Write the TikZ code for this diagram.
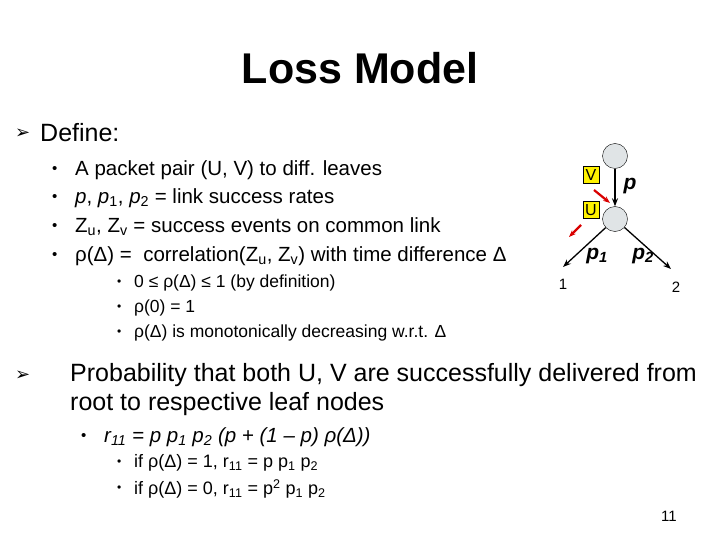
\documentclass[tikz,border=0pt]{standalone}
\usepackage{fontspec}
\setmainfont{Liberation Sans}
\newfontfamily\dvs{DejaVu Sans}
\usetikzlibrary{arrows.meta}
\begin{document}
\begin{tikzpicture}[x=1pt,y=-1pt,
  t/.style={anchor=west,inner sep=0pt},
  big/.style={t,font=\fontsize{25}{28}\selectfont},
  mid/.style={t,font=\fontsize{20.5}{24}\selectfont},
  sml/.style={t,font=\fontsize{17.5}{20}\selectfont},
  ism/.style={t,font=\fontsize{18}{20}\selectfont},
  bul/.style={t,font=\fontsize{15}{18}\selectfont},
  sbul/.style={t,font=\fontsize{12}{14}\selectfont},
  arr/.style={t,font=\dvs\fontsize{18}{20}\selectfont},
  circ/.style={circle,draw=black,fill=cyan!10!gray!25,minimum size=25pt,inner sep=0pt},
  lab/.style={draw=black,fill=yellow,inner sep=1pt,minimum width=16pt,minimum height=17pt,font=\fontsize{16}{18}\selectfont},
  edge/.style={-{Stealth[length=8pt]},line width=1.3pt},
  redarrow/.style={-{Stealth[length=7pt]},line width=2.2pt,draw=red!85!black}]
\useasboundingbox (0,0) rectangle (720,540);
\node[font=\bfseries\fontsize{43}{48}\selectfont] (title) at (360,68) {Loss Model};
\node[arr] (a1) at (15,134) {➢};
\node[big] (d1) at (40,133) {Define:};
\foreach \y/\s [count=\i] in {170/{A packet pair (U, V) to diff. leaves},
  198/{\textit{p}, \textit{p}\textsubscript{1}, \textit{p}\textsubscript{2} = link success rates},
  227/{Z\textsubscript{u}, Z\textsubscript{v} = success events on common link},
  256/{ρ(Δ) = \ correlation(Z\textsubscript{u}, Z\textsubscript{v}) with time difference Δ}}{
  \node[bul] (bb\i) at (52,\y) {•};
  \node[mid] (bt\i) at (75,\y) {\s};}
\foreach \y/\s [count=\i] in {283/{0 ≤ ρ(Δ) ≤ 1 (by definition)},308/{ρ(0) = 1},333/{ρ(Δ) is monotonically decreasing w.r.t. Δ}}{
  \node[sbul] (sb\i) at (117,\y) {•};
  \node[sml] (st\i) at (134,\y) {\s};}
\node[arr] (a2) at (15,376) {➢};
\node[big] (d2) at (70,375) {Probability that both U, V are successfully delivered from};
\node[big] (d2b) at (70,404) {root to respective leaf nodes};
\node[bul] (rb) at (81,437) {•};
\node[mid] (rt) at (104,437) {\itshape r\textsubscript{11} = p p\textsubscript{1} p\textsubscript{2} (p + (1 – p) ρ(Δ))};
\node[sbul] (ib1) at (117,463) {•};
\node[ism] (it1) at (134,463) {if ρ(Δ) = 1, r\textsubscript{11} = p p\textsubscript{1} p\textsubscript{2}};
\node[sbul] (ib2) at (117,489) {•};
\node[ism] (it2) at (134,489) {if ρ(Δ) = 0, r\textsubscript{11} = p\textsuperscript{2} p\textsubscript{1} p\textsubscript{2}};
\node[font=\fontsize{15}{17}\selectfont] (pg) at (669,516) {11};
% tree
\node[circ] (top) at (615,156) {};
\node[circ] (mid) at (615,219) {};
\coordinate (l1) at (563,267);
\coordinate (l2) at (671,269);
\node[font=\fontsize{15}{17}\selectfont] (n1) at (563,284) {1};
\node[font=\fontsize{15}{17}\selectfont] (n2) at (676,287) {2};
\draw[edge] (top) -- (mid);
\draw[edge] (mid) -- (l1);
\draw[edge] (mid) -- (l2);
\node[font=\itshape\bfseries\fontsize{21}{24}\selectfont] (pl) at (630,186) {p};
\node[font=\itshape\bfseries\fontsize{21}{24}\selectfont] (p1l) at (597,256) {p\textsubscript{1}};
\node[font=\itshape\bfseries\fontsize{21}{24}\selectfont] (p2l) at (643,256) {p\textsubscript{2}};
\node[lab] (V) at (591,175) {V};
\node[lab] (U) at (591,210) {U};
\coordinate (ra1) at (594,190); \coordinate (ra2) at (610,203);
\coordinate (rb1) at (581,225); \coordinate (rb2) at (569,237);
\draw[redarrow] (ra1) -- (ra2);
\draw[redarrow] (rb1) -- (rb2);
\end{tikzpicture}
\end{document}
